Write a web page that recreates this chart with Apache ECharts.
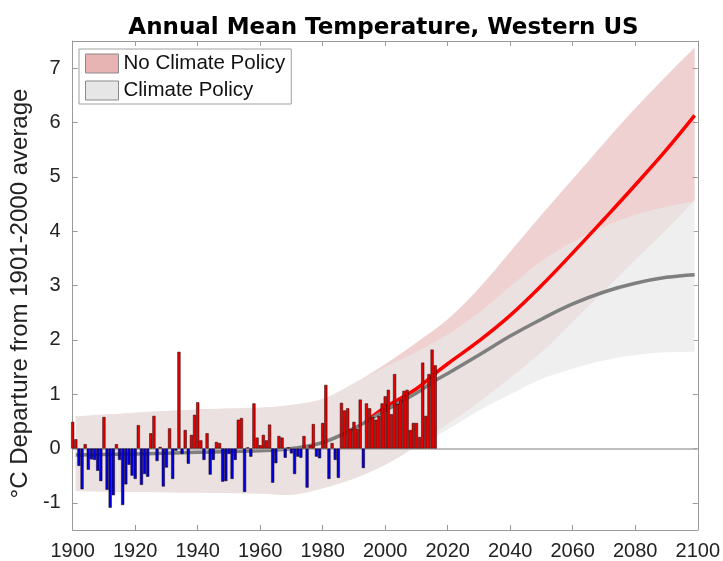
<!DOCTYPE html>
<html><head><meta charset="utf-8">
<script src="https://cdn.jsdelivr.net/npm/echarts@6/dist/echarts.min.js"></script>
<style>html,body{margin:0;padding:0;background:#fff}#c{width:723px;height:561px}</style>
</head><body><div id="c"></div>
<script>
// ---- data ----
const barStartYear = 1900;
const anomalies = [
  0.49, 0.17, -0.32, -0.75, 0.08, -0.39, -0.2, -0.21, -0.41, -0.6,      // 1900-1909
  0.58, -0.76, -1.09, -0.86, 0.08, -0.21, -1.04, -0.66, -0.3, -0.5,      // 1910-1919
  -0.56, 0.43, -0.67, -0.47, -0.52, 0.28, 0.6, -0.23, 0.03, -0.7,        // 1920-1929
  -0.35, 0.37, -0.56, -0.04, 1.78, -0.1, 0.34, -0.28, 0.25, 0.62,        // 1930-1939
  0.85, 0.15, -0.21, 0.28, -0.48, -0.21, 0.12, 0.1, -0.61, -0.6,         // 1940-1949
  -0.1, -0.56, -0.21, 0.53, 0.56, -0.8, 0.02, -0.15, 0.83, 0.2,          // 1950-1959
  0.06, 0.25, 0.15, 0.44, -0.63, -0.27, 0.23, 0.2, -0.17, 0.02,          // 1960-1969
  -0.09, -0.47, -0.15, -0.17, 0.23, -0.72, 0.06, 0.45, -0.15, -0.18,     // 1970-1979
  0.47, 1.17, -0.56, 0.1, -0.21, -0.54, 0.84, 0.7, 0.74, 0.36,           // 1980-1989
  0.49, 0.36, 0.9, -0.36, 0.83, 0.74, 0.58, 0.53, 0.6, 0.83,             // 1990-1999
  0.96, 1.08, 0.63, 1.37, 0.82, 0.9, 1.06, 1.08, 0.34, 0.47,             // 2000-2009
  0.47, 0.21, 1.58, 0.6, 1.37, 1.82, 1.53                                // 2010-2016
];
const bandYears      = [1901, 1920, 1940, 1960, 1970, 1980, 1990, 2000, 2010, 2020, 2030, 2040, 2050, 2060, 2070, 2080, 2090, 2099];
const noPolicyUpper  = [0.59, 0.66, 0.72, 0.75, 0.8, 0.91, 1.2, 1.55, 1.95, 2.38, 2.95, 3.62, 4.3, 4.96, 5.62, 6.26, 6.86, 7.38];
const noPolicyLower  = [-0.78, -0.8, -0.81, -0.83, -0.85, -0.73, -0.55, -0.3, 0.05, 0.45, 0.85, 1.3, 1.77, 2.33, 2.9, 3.47, 4.03, 4.57];
const policyUpper    = [0.59, 0.66, 0.72, 0.75, 0.8, 0.91, 1.2, 1.5, 1.78, 2.1, 2.5, 2.98, 3.45, 3.8, 4.08, 4.3, 4.45, 4.55];
const policyLower    = [-0.78, -0.8, -0.81, -0.83, -0.85, -0.73, -0.55, -0.3, 0.03, 0.35, 0.7, 1.0, 1.28, 1.47, 1.62, 1.72, 1.77, 1.78];
const policyLineYears   = [1901, 1920, 1940, 1960, 1970, 1980, 1990, 2000, 2010, 2016, 2020, 2030, 2040, 2050, 2060, 2070, 2080, 2090, 2099];
const policyLine        = [-0.12, -0.1, -0.07, -0.04, 0.0, 0.11, 0.37, 0.7, 1.02, 1.25, 1.38, 1.72, 2.07, 2.38, 2.66, 2.88, 3.04, 3.15, 3.2];
const noPolicyLineYears = [1995, 2000, 2010, 2016, 2020, 2030, 2040, 2050, 2060, 2070, 2080, 2090, 2099];
const noPolicyLine      = [0.55, 0.76, 1.1, 1.38, 1.56, 1.98, 2.45, 3.0, 3.6, 4.22, 4.85, 5.5, 6.13];
const xTicks = [1900, 1920, 1940, 1960, 1980, 2000, 2020, 2040, 2060, 2080, 2100];
const yTicks = [-1, 0, 1, 2, 3, 4, 5, 6, 7];

// ---- chart ----
const FONT = '"Liberation Sans", Arial, Helvetica, sans-serif';
const AXC = '#9a9a9a';
const SM = 0.35;
const pair = (xs, ys) => xs.map((x, i) => [x, ys[i]]);
const barData = anomalies.map((v, i) => [barStartYear + i, v]);

// band polygon: upper edge forward, lower edge backward, drawn through the axes' scales.
// corner points are repeated so the smoothing keeps the band's end edges straight.
function bandRenderer(xs, up, lo, fill) {
  return function (params, api) {
    if (params.dataIndex !== 0) return null;
    const top = xs.map((x, i) => api.coord([x, up[i]]));
    const bot = xs.map((x, i) => api.coord([x, lo[i]])).reverse();
    const n = top.length - 1;
    const pts = [top[0]].concat(top, [top[n]], [bot[0]], bot, [bot[n]]);
    return { type: 'polygon', shape: { points: pts, smooth: SM }, style: { fill: fill } };
  };
}

const baseX = {
  type: 'value', min: 1900, max: 2100,
  axisLine: { show: true, onZero: false, lineStyle: { color: AXC, width: 1 } },
  axisTick: { show: true, inside: true, length: 5, customValues: xTicks, lineStyle: { color: AXC } },
  splitLine: { show: false }
};
const baseY = {
  type: 'value', min: -1.5, max: 7.5,
  axisLine: { show: true, onZero: false, lineStyle: { color: AXC, width: 1 } },
  axisTick: { show: true, inside: true, length: 5, customValues: yTicks, lineStyle: { color: AXC } },
  splitLine: { show: false }
};

const option = {
  animation: false,
  backgroundColor: '#fff',
  title: {
    text: 'Annual Mean Temperature, Western US',
    left: 378.5, textAlign: 'center', top: 12,
    textStyle: { fontFamily: '"DejaVu Sans", sans-serif', fontWeight: 'bold', fontSize: 23, color: '#000' }
  },
  legend: {
    orient: 'vertical', left: 79, top: 49, padding: [4, 6, 3, 6],
    itemWidth: 33, itemHeight: 19, itemGap: 6, icon: 'rect',
    backgroundColor: '#fff', borderColor: '#a0a0a0', borderWidth: 1,
    selectedMode: false,
    textStyle: { fontFamily: FONT, fontSize: 20.5, color: '#111' },
    data: [
      { name: 'No Climate Policy', itemStyle: { color: '#e8b3b3', borderColor: '#8a8a8a', borderWidth: 1 } },
      { name: 'Climate Policy', itemStyle: { color: '#e6e6e6', borderColor: '#8a8a8a', borderWidth: 1 } }
    ]
  },
  grid: { left: 67, right: 25, top: 41, bottom: 31, containLabel: false },
  xAxis: [
    Object.assign({}, baseX, {
      position: 'bottom',
      axisLabel: { customValues: xTicks, margin: 11, fontFamily: FONT, fontSize: 20, color: '#222',
        formatter: v => String(v) }
    }),
    Object.assign({}, baseX, { position: 'top', axisLabel: { show: false } })
  ],
  yAxis: [
    Object.assign({}, baseY, {
      position: 'left',
      name: '°C Departure from 1901-2000 average',
      nameLocation: 'middle', nameGap: 34,
      nameTextStyle: { fontFamily: FONT, fontSize: 24, color: '#222', padding: [0, 16, 0, 0] },
      axisLabel: { customValues: yTicks, margin: 12, fontFamily: FONT, fontSize: 20, color: '#222',
        formatter: v => String(v) }
    }),
    Object.assign({}, baseY, { position: 'right', axisLabel: { show: false } })
  ],
  series: [
    { name: 'No Climate Policy', type: 'custom', coordinateSystem: 'cartesian2d',
      data: [[bandYears[0], noPolicyUpper[0]]], encode: { x: 0, y: 1 },
      renderItem: bandRenderer(bandYears, noPolicyUpper, noPolicyLower, 'rgba(205,102,102,0.3)'),
      itemStyle: { color: '#e8b3b3' }, silent: true, z: 1 },
    { name: 'Climate Policy', type: 'custom', coordinateSystem: 'cartesian2d',
      data: [[bandYears[0], policyUpper[0]]], encode: { x: 0, y: 1 },
      renderItem: bandRenderer(bandYears, policyUpper, policyLower, 'rgba(232,232,232,0.7)'),
      itemStyle: { color: '#e6e6e6' }, silent: true, z: 2 },
    { name: 'noPolicyMean', type: 'line', data: pair(noPolicyLineYears, noPolicyLine),
      symbol: 'none', smooth: 0.4, lineStyle: { color: '#ff0000', width: 3.5 }, silent: true, z: 3 },
    { name: 'policyMean', type: 'line', data: pair(policyLineYears, policyLine),
      symbol: 'none', smooth: 0.4, lineStyle: { color: '#7f7f7f', width: 3.5 }, silent: true, z: 4 },
    { name: 'anomaly', type: 'bar', data: barData, barWidth: 3.1, silent: true, z: 5,
      itemStyle: {
        color: p => (p.value[1] >= 0 ? '#e60000' : '#0000e0'),
        borderColor: '#1a0000', borderWidth: 0.5
      },
      markLine: {
        silent: true, symbol: ['none', 'none'], label: { show: false },
        lineStyle: { color: '#a8a8a8', width: 1.5, type: 'solid' },
        data: [{ yAxis: 0 }]
      }
    }
  ]
};
const chart = echarts.init(document.getElementById('c'));
chart.setOption(option);
</script>
</body></html>
